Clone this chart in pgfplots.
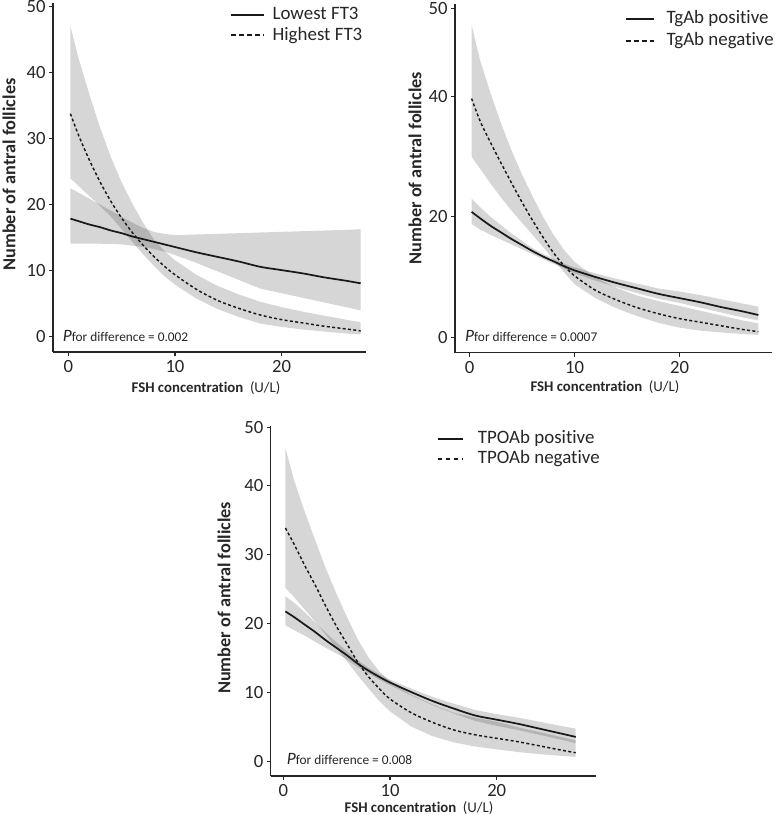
\documentclass[border=0pt]{standalone}
\usepackage{pgfplots}
\pgfplotsset{compat=1.18}
\usepackage{fontspec}
\setmainfont{Carlito}[Ligatures=NoCommon]
\begin{document}
\begin{tikzpicture}
\useasboundingbox (0,0) rectangle (582.75pt,611.25pt);
\pgfplotsset{
  panel/.style={
    scale only axis, anchor=south west,
    axis x line=bottom, axis y line=left,
    axis line style={-, line width=0.8pt, black!85},
    tick align=outside, major tick length=3pt, tick style={line width=0.8pt, black!85},
    xtick={0,10,20},
    ticklabel style={font=\fontsize{14}{14}\selectfont, text=black!85},
    yticklabel style={xshift=1pt},
    /pgf/number format/assume math mode=true,
    xlabel={\textbf{FSH concentration}\hspace{0.45em}(U/L)},
    ylabel={\textbf{Number of antral follicles}},
    xlabel style={font=\fontsize{11.1}{12}\selectfont, anchor=center, text=black!85},
    ylabel style={font=\fontsize{13.7}{14}\selectfont, anchor=center, text=black!85},
    legend style={draw=none, fill=none, inner sep=0pt, anchor=north west,
      text=black!85, font=\fontsize{14.2}{15}\selectfont,
      nodes={inner sep=0.5pt, text height=10pt, text depth=3pt}},
    legend cell align=left,
    clip=false,
  },
  band/.style={fill=black, fill opacity=0.16, draw=none, forget plot},
  solidln/.style={black!90, line width=1.3pt, forget plot, smooth},
  dashln/.style={black!90, line width=1.1pt, dash pattern=on 2.2pt off 1.8pt, forget plot, smooth},
  legsolid/.style={black!90, line width=1.5pt},
  legdash/.style={black!90, line width=1.5pt, dash pattern=on 3.4pt off 2.6pt},
}

% ---------------- Panel 1 ----------------
\begin{axis}[panel, at={(39.75pt,347.25pt)}, width=234.75pt, height=261.45pt,
  xmin=-1.43, xmax=27.9, ymin=-2.3, ymax=50.5,
  ytick={0,10,20,30,40,50},
  ylabel style={at={(axis description cs:-0.1406,0.509)}},
  xlabel style={at={(axis description cs:0.489,-0.103)}},
  legend style={at={(axis description cs:0.5655,0.995)}, row sep=1.45pt},
  legend image code/.code={\draw[#1] (0pt,0pt) -- (24.75pt,0pt);},
  ]
\addlegendimage{legsolid}\addlegendentry{\hspace{5pt}Lowest FT3}
\addlegendimage{legdash}\addlegendentry{\hspace{5pt}Highest FT3}
\addplot[band] coordinates {(0.2,22.5)(1,21.8)(2,20.9)(3,20.0)(4,19.1)(5,18.2)(6,17.3)(7,16.5)(8,15.9)(9,15.6)(10,15.4)(12,15.5)(14,15.6)(16,15.7)(18,15.8)(20,15.9)(22,16.0)(24,16.1)(26,16.2)(27.4,16.3)
 (27.4,4.0)(26,4.5)(24,5.2)(22,5.9)(20,6.6)(18,7.3)(16,8.6)(14,9.9)(12,11.2)(10,12.4)(9,12.9)(8,13.3)(7,13.6)(6,13.8)(5,14.0)(4,14.05)(3,14.1)(2,14.1)(1,14.1)(0.2,14.1)} -- cycle;
\addplot[band] coordinates {(0.2,47.0)(1,42.0)(2,36.6)(3,31.6)(4,27.2)(5,23.4)(6,20.2)(7,17.3)(8,14.8)(9,13.0)(10,11.6)(12,9.4)(14,7.7)(16,6.4)(18,5.3)(20,4.5)(22,3.8)(24,3.2)(26,2.6)(27.4,2.2)
 (27.4,0.35)(26,0.5)(24,0.8)(22,1.1)(20,1.5)(18,2.0)(16,3.0)(14,4.2)(12,5.8)(10,7.9)(9,9.2)(8,10.8)(7,12.5)(6,14.4)(5,16.3)(4,18.2)(3,19.8)(2,21.3)(1,22.8)(0.2,24.0)} -- cycle;
\addplot[solidln] coordinates {(0.2,17.9)(1,17.5)(2,17.0)(3,16.6)(4,16.1)(5,15.7)(6,15.2)(7,14.8)(8,14.4)(9,14.0)(10,13.6)(12,12.8)(14,12.1)(16,11.4)(18,10.6)(20,10.1)(22,9.6)(24,9.0)(26,8.5)(27.4,8.1)};
\addplot[dashln] coordinates {(0.2,33.8)(1,30.4)(2,26.7)(3,23.4)(4,20.5)(5,18.0)(6,15.8)(7,13.9)(8,12.2)(9,10.7)(10,9.4)(12,7.2)(14,5.5)(16,4.3)(18,3.3)(20,2.6)(22,2.1)(24,1.6)(26,1.2)(27.4,0.9)};
\node[anchor=west, inner sep=0pt, text=black!85] at (axis cs:-0.52,0.1) {{\fontsize{13}{13}\selectfont\itshape P}{\fontsize{10}{10}\selectfont for difference = 0.002}};
\end{axis}

% ---------------- Panel 2 ----------------
\begin{axis}[panel, at={(341.25pt,346.725pt)}, width=237.75pt, height=261.2pt,
  xmin=-1.38, xmax=28.8, ymin=-2.55, ymax=55.2,
  ytick={0,20,40,54.5}, yticklabels={0,20,40,50},
  ylabel style={at={(axis description cs:-0.126,0.530)}},
  xlabel style={at={(axis description cs:0.473,-0.0985)}},
  legend style={at={(axis description cs:0.536,0.9854)}, row sep=2.2pt},
  legend image code/.code={\draw[#1] (0pt,0pt) -- (21pt,0pt);},
  ]
\addlegendimage{legsolid}\addlegendentry{\hspace{8pt}TgAb positive}
\addlegendimage{legdash}\addlegendentry{\hspace{8pt}TgAb negative}
\addplot[band] coordinates {(0.2,23.0)(1,21.6)(2,20.0)(3,18.6)(4,17.2)(5,16.0)(6,14.8)(7,13.85)(8,13.0)(9,12.2)(10,11.6)(12,10.6)(14,9.7)(16,8.9)(18,8.1)(20,7.6)(22,7.0)(24,6.3)(26,5.6)(27.5,5.1)
 (27.5,2.8)(26,3.3)(24,4.1)(22,4.9)(20,5.7)(18,6.4)(16,7.3)(14,8.3)(12,9.4)(10,10.6)(9,11.4)(8,12.2)(7,12.95)(6,13.8)(5,14.6)(4,15.4)(3,16.2)(2,17.0)(1,17.9)(0.2,18.8)} -- cycle;
\addplot[band] coordinates {(0.2,51.8)(1,46.0)(2,40.5)(3,35.5)(4,31.0)(5,27.0)(6,23.4)(7,20.0)(8,17.0)(9,14.5)(10,12.5)(12,9.9)(14,8.2)(16,6.9)(18,6.0)(20,5.2)(22,4.4)(24,3.6)(26,2.8)(27.5,2.3)
 (27.5,0.4)(26,0.55)(24,0.8)(22,1.1)(20,1.6)(18,2.4)(16,3.5)(14,4.8)(12,6.5)(10,8.8)(9,10.8)(8,12.8)(7,15.0)(6,17.0)(5,19.0)(4,21.0)(3,23.2)(2,25.5)(1,28.0)(0.2,29.9)} -- cycle;
\addplot[solidln] coordinates {(0.2,20.8)(1,19.75)(2,18.5)(3,17.4)(4,16.3)(5,15.3)(6,14.3)(7,13.4)(8,12.6)(9,11.8)(10,11.1)(12,10.0)(14,9.0)(16,8.1)(18,7.2)(20,6.5)(22,5.8)(24,5.0)(26,4.3)(27.5,3.7)};
\addplot[dashln] coordinates {(0.2,39.6)(1,35.9)(2,32.3)(3,28.9)(4,25.6)(5,22.4)(6,19.4)(7,16.6)(8,14.0)(9,11.9)(10,10.2)(12,7.8)(14,6.2)(16,4.9)(18,3.9)(20,3.1)(22,2.5)(24,1.9)(26,1.3)(27.5,0.93)};
\node[anchor=west, inner sep=0pt, text=black!85] at (axis cs:-0.43,0.2) {{\fontsize{13}{13}\selectfont\itshape P}{\fontsize{10}{10}\selectfont for difference = 0.0007}};
\end{axis}

% ---------------- Panel 3 ----------------
\begin{axis}[panel, at={(203.0pt,29.25pt)}, width=244.0pt, height=262.5pt,
  xmin=-1.18, xmax=29.3, ymin=-2.17, ymax=48.6,
  ytick={0,10,20,30,40,48.4}, yticklabels={0,10,20,30,40,50},
  ylabel style={at={(axis description cs:-0.143,0.509)}},
  xlabel style={at={(axis description cs:0.456,-0.0914)}},
  legend style={at={(axis description cs:0.510,0.991)}, row sep=1.0pt},
  legend image code/.code={\draw[#1] (0pt,0pt) -- (18.75pt,0pt);},
  ]
\addlegendimage{legsolid}\addlegendentry{\hspace{10pt}TPOAb positive}
\addlegendimage{legdash}\addlegendentry{\hspace{10pt}TPOAb negative}
\addplot[band] coordinates {(0.2,23.9)(1,23.0)(2,21.6)(3,20.1)(4,18.6)(5,17.2)(6,15.9)(7,14.6)(8,13.5)(9,12.6)(10,11.8)(12,10.5)(14,9.3)(16,8.3)(18,7.4)(20,6.8)(22,6.3)(24,5.7)(26,5.1)(27.4,4.7)
 (27.4,2.6)(26,3.1)(24,3.8)(22,4.5)(20,5.1)(18,5.8)(16,6.9)(14,8.1)(12,9.5)(10,11.0)(9,11.8)(8,12.7)(7,13.6)(6,14.7)(5,15.6)(4,16.4)(3,17.3)(2,18.2)(1,19.0)(0.2,19.7)} -- cycle;
\addplot[band] coordinates {(0.2,45.4)(1,40.8)(2,36.2)(3,32.0)(4,27.9)(5,24.2)(6,20.8)(7,17.6)(8,15.0)(9,13.0)(10,11.6)(12,9.6)(14,8.2)(16,7.0)(18,6.3)(20,5.7)(22,4.9)(24,4.2)(26,3.5)(27.4,3.0)
 (27.4,0.6)(26,0.75)(24,1.0)(22,1.3)(20,1.7)(18,2.1)(16,2.7)(14,3.6)(12,5.0)(10,7.2)(9,8.7)(8,10.5)(7,12.4)(6,14.4)(5,16.3)(4,18.3)(3,20.2)(2,22.0)(1,23.8)(0.2,25.1)} -- cycle;
\addplot[solidln] coordinates {(0.2,21.7)(1,20.9)(2,19.8)(3,18.7)(4,17.5)(5,16.4)(6,15.3)(7,14.1)(8,13.1)(9,12.2)(10,11.4)(12,10.0)(14,8.7)(16,7.6)(18,6.6)(20,6.0)(22,5.4)(24,4.7)(26,4.0)(27.4,3.5)};
\addplot[dashln] coordinates {(0.2,33.8)(1,31.5)(2,28.4)(3,25.5)(4,22.4)(5,19.5)(6,16.9)(7,14.3)(8,12.2)(9,10.5)(10,9.0)(12,7.0)(14,5.6)(16,4.5)(18,3.8)(20,3.3)(22,2.8)(24,2.2)(26,1.6)(27.4,1.2)};
\node[anchor=west, inner sep=0pt, text=black!85] at (axis cs:0.32,0.25) {{\fontsize{13}{13}\selectfont\itshape P}{\fontsize{10}{10}\selectfont for difference = 0.008}};
\end{axis}
\end{tikzpicture}
\end{document}
